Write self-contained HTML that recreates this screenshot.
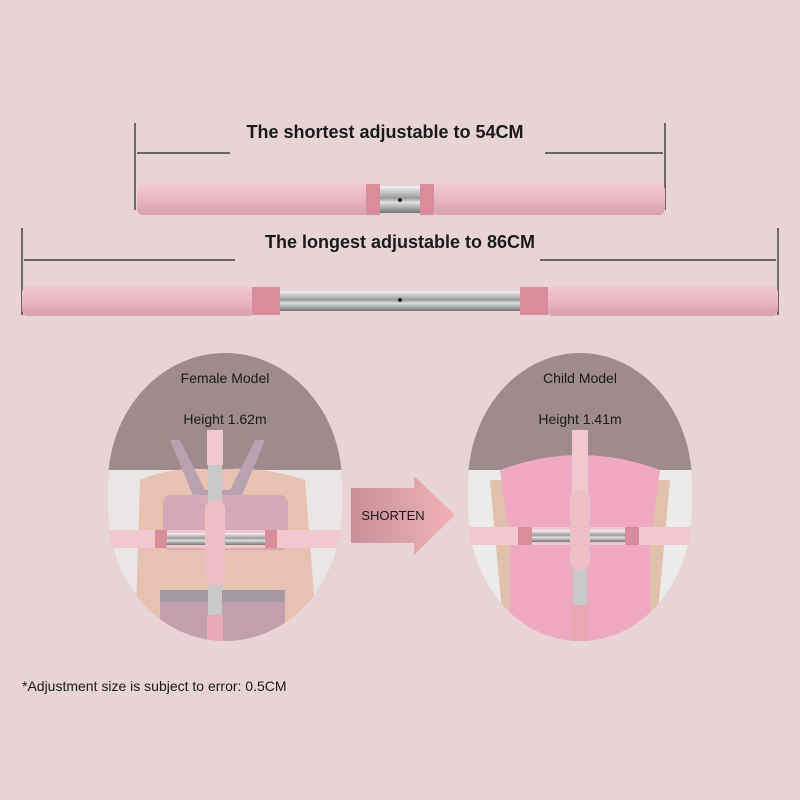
<!DOCTYPE html>
<html><head><style>
body{margin:0;width:800px;height:800px;background:#e8d4d6;font-family:"Liberation Sans",sans-serif;overflow:hidden;position:relative}
.t{position:absolute;font-weight:bold;color:#1a1a1a;white-space:nowrap}
</style></head><body>
<svg width="800" height="800" style="position:absolute;left:0;top:0">
<defs>
<linearGradient id="pk" x1="0" y1="0" x2="0" y2="1"><stop offset="0" stop-color="#f2c9cf"/><stop offset="0.5" stop-color="#eab7bf"/><stop offset="1" stop-color="#d9a0aa"/></linearGradient>
<linearGradient id="st" x1="0" y1="0" x2="0" y2="1"><stop offset="0" stop-color="#f4f4f4"/><stop offset="0.45" stop-color="#9a9a9a"/><stop offset="0.6" stop-color="#e0e0e0"/><stop offset="1" stop-color="#777"/></linearGradient>
<linearGradient id="ar" x1="0" y1="0" x2="1" y2="0"><stop offset="0" stop-color="#c98f95"/><stop offset="1" stop-color="#f0b2b6"/></linearGradient>
<clipPath id="c1"><rect x="108" y="353" width="234" height="288" rx="117" ry="130"/></clipPath>
<clipPath id="c2"><rect x="468" y="353" width="224" height="288" rx="112" ry="130"/></clipPath>
</defs>
<g stroke="#222" stroke-width="1.2">
<line x1="135" y1="123" x2="135" y2="210"/><line x1="665" y1="123" x2="665" y2="210"/>
<line x1="137" y1="153" x2="230" y2="153"/><line x1="545" y1="153" x2="663" y2="153"/>
<line x1="22" y1="228" x2="22" y2="315"/><line x1="778" y1="228" x2="778" y2="315"/>
<line x1="24" y1="260" x2="235" y2="260"/><line x1="540" y1="260" x2="776" y2="260"/>
</g>
<rect x="137" y="184" width="232" height="31" rx="6" fill="url(#pk)"/>
<rect x="433" y="184" width="232" height="31" rx="6" fill="url(#pk)"/>
<rect x="366" y="184" width="14" height="31" fill="#d88d98"/>
<rect x="420" y="184" width="14" height="31" fill="#d88d98"/>
<rect x="380" y="186" width="40" height="27" fill="url(#st)"/>
<circle cx="400" cy="200" r="2" fill="#222"/>
<rect x="22" y="286" width="232" height="30" rx="6" fill="url(#pk)"/>
<rect x="547" y="286" width="231" height="30" rx="6" fill="url(#pk)"/>
<rect x="252" y="287" width="28" height="28" fill="#d88d98"/>
<rect x="520" y="287" width="28" height="28" fill="#d88d98"/>
<rect x="280" y="291" width="240" height="20" fill="url(#st)"/>
<circle cx="400" cy="300" r="2" fill="#222"/>
<rect x="108" y="353" width="234" height="288" rx="117" ry="130" fill="#9f8b8d"/>
<g clip-path="url(#c1)">
<rect x="108" y="470" width="234" height="175" fill="#eae6e6"/>
<path d="M140 480 Q175 465 215 470 Q260 465 305 480 L318 645 L135 645 Z" fill="#e7c2b3"/>
<path d="M170 440 L195 500 L240 500 L265 440 L255 440 L230 490 L205 490 L180 440Z" fill="#b9a2b0"/>
<rect x="163" y="495" width="125" height="55" rx="8" fill="#d7a8b8"/>
<rect x="160" y="590" width="125" height="55" fill="#c3a0ad"/>
<rect x="160" y="590" width="125" height="12" fill="#a79aa5"/>
<rect x="108" y="530" width="234" height="18" fill="#f1c8cf"/>
<rect x="155" y="530" width="12" height="18" fill="#d88d98"/>
<rect x="265" y="530" width="12" height="18" fill="#d88d98"/>
<rect x="167" y="533" width="98" height="12" fill="url(#st)"/>
<rect x="208" y="430" width="14" height="215" fill="#c9c9c9"/>
<rect x="207" y="430" width="16" height="35" fill="#f1c8cf"/>
<rect x="205" y="500" width="20" height="85" rx="9" fill="#eebfc6"/>
<rect x="207" y="615" width="16" height="30" fill="#e9a9b3"/>
</g>
<rect x="468" y="353" width="224" height="288" rx="112" ry="130" fill="#9f8b8d"/>
<g clip-path="url(#c2)">
<rect x="468" y="470" width="224" height="175" fill="#ecebea"/>
<path d="M490 480 L505 645 L655 645 L670 480 Z" fill="#e2c0ae"/>
<path d="M500 470 Q580 440 660 470 L650 545 L650 645 L510 645 L510 545 Z" fill="#f0a9c2"/>
<rect x="468" y="527" width="224" height="18" fill="#f1c8cf"/>
<rect x="518" y="527" width="14" height="18" fill="#d88d98"/>
<rect x="625" y="527" width="14" height="18" fill="#d88d98"/>
<rect x="532" y="530" width="93" height="12" fill="url(#st)"/>
<rect x="573" y="430" width="14" height="215" fill="#c9c9c9"/>
<rect x="572" y="430" width="16" height="65" fill="#f1c8cf"/>
<rect x="570" y="490" width="20" height="80" rx="9" fill="#eebfc6"/>
<rect x="572" y="605" width="16" height="40" fill="#e9a9b3"/>
</g>
<path d="M351 488 L414 488 L414 476 L455 515 L414 555 L414 543 L351 543 Z" fill="url(#ar)"/>
</svg>
<div class="t" style="left:0;width:770px;text-align:center;top:122px;font-size:18px">The shortest adjustable to 54CM</div>
<div class="t" style="left:0;width:800px;text-align:center;top:232px;font-size:18px">The longest adjustable to 86CM</div>
<div class="t" style="left:108px;width:234px;text-align:center;top:370px;font-size:14px;font-weight:normal">Female Model</div>
<div class="t" style="left:108px;width:234px;text-align:center;top:411px;font-size:14px;font-weight:normal">Height 1.62m</div>
<div class="t" style="left:468px;width:224px;text-align:center;top:370px;font-size:14px;font-weight:normal">Child Model</div>
<div class="t" style="left:468px;width:224px;text-align:center;top:411px;font-size:14px;font-weight:normal">Height 1.41m</div>
<div class="t" style="left:351px;width:84px;text-align:center;top:508px;font-size:13px;font-weight:normal">SHORTEN</div>
<div class="t" style="left:22px;top:678px;font-size:14px;font-weight:normal">*Adjustment size is subject to error: 0.5CM</div>
</body></html>
